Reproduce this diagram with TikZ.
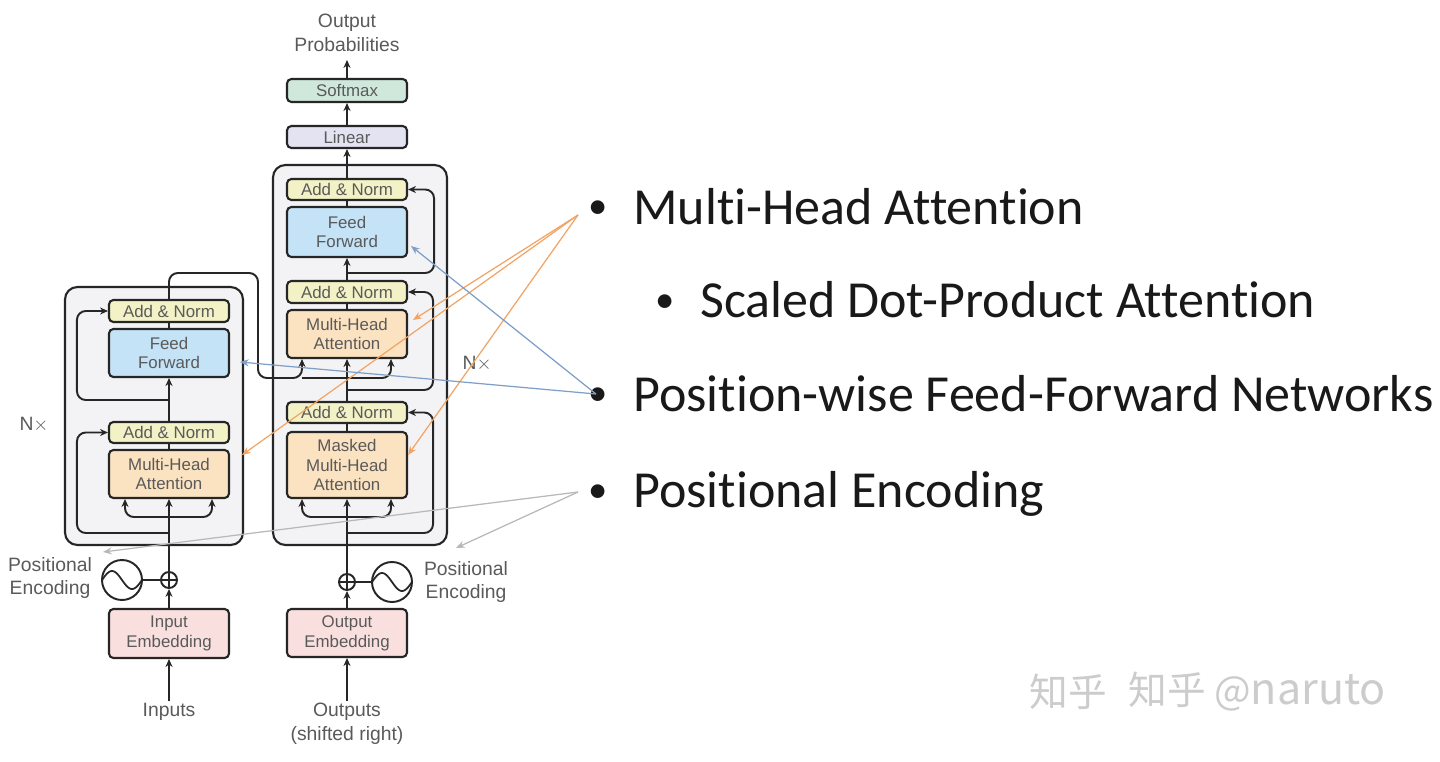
\documentclass[tikz,border=0pt]{standalone}
\usepackage{fontspec}
\setmainfont{Liberation Sans}
\newfontfamily\bulfont[Ligatures={NoCommon,NoDiscretionary}]{Carlito}
\newfontfamily\cjkfont{Noto Sans CJK SC}
\usetikzlibrary{arrows.meta,calc}
\definecolor{dgtext}{HTML}{5A5A5A}
\definecolor{addc}{HTML}{F2F2C6}
\definecolor{ffc}{HTML}{C4E3F6}
\definecolor{mhac}{HTML}{FBE2C0}
\definecolor{embc}{HTML}{FADFDF}
\definecolor{linc}{HTML}{E3E3F2}
\definecolor{smc}{HTML}{D0E8DB}
\definecolor{outerc}{HTML}{F3F3F5}
\definecolor{annor}{HTML}{F2A464}
\definecolor{annbl}{HTML}{7E9FC8}
\definecolor{anngr}{HTML}{B8B8B8}
\definecolor{wmc}{HTML}{CCCCCC}
\begin{document}
\begin{tikzpicture}[x=0.02cm,y=-0.02cm,
  blk/.style={draw=black!85, line width=1.2pt, rounded corners=2.5pt,
    font=\fontsize{9.6}{11.3}\selectfont, text=dgtext, align=center,
    inner sep=0pt, minimum width=2.4cm},
  outerbox/.style={draw=black!85, line width=1.2pt, fill=outerc, rounded corners=7pt},
  wire/.style={line width=1.1pt, draw=black!85, rounded corners=5pt},
  arr/.style={wire, -{Stealth[length=4.5pt,width=4pt]}},
  lbl/.style={font=\fontsize{11}{13.6}\selectfont, text=dgtext, align=center, inner sep=1pt},
  plusc/.style={circle, draw=black!85, line width=1.1pt, minimum size=0.32cm, inner sep=0pt,
    path picture={\draw[line width=0.9pt] (path picture bounding box.north) -- (path picture bounding box.south)
      (path picture bounding box.west) -- (path picture bounding box.east);}},
  sinec/.style={circle, draw=black!85, line width=1.1pt, minimum size=0.8cm, inner sep=0pt,
    path picture={\draw[line width=1pt, shift={(path picture bounding box.center)}]
      plot[domain=-1:1, samples=40, smooth] (\x*20, {9*sin(\x*180)});}},
  annO/.style={draw=annor, line width=0.7pt, -{Stealth[length=5pt,width=4pt]}},
  annB/.style={draw=annbl, line width=0.7pt, -{Stealth[length=5pt,width=4pt]}},
  annG/.style={draw=anngr, line width=0.7pt, -{Stealth[length=5pt,width=4pt]}},
  bultxt/.style={font=\bulfont\fontsize{29.6}{34}\selectfont, text=black!90, inner sep=0pt},
  buldot/.style={font=\bulfont\fontsize{22}{26}\selectfont, text=black!90, inner sep=0pt, anchor=base},
  wmtxt/.style={font=\cjkfont\fontsize{22}{26}\selectfont, inner sep=0pt}
]
\useasboundingbox[fill=white] (0,0) rectangle (1440,761);

% outer boxes
\node[outerbox, minimum width=3.56cm, minimum height=5.16cm] (encBox) at (154,416) {};
\node[outerbox, minimum width=3.48cm, minimum height=7.6cm] (decBox) at (360,355) {};

% ---------- encoder blocks ----------
\node[blk, fill=addc, minimum height=0.44cm] (eAN2) at (169,311) {Add \& Norm};
\node[blk, fill=ffc, minimum height=0.96cm] (eFF) at (169,353) {Feed\\Forward};
\node[blk, fill=addc, minimum height=0.42cm] (eAN1) at (169,432.5) {Add \& Norm};
\node[blk, fill=mhac, minimum height=0.96cm] (eMHA) at (169,474) {Multi-Head\\Attention};
\node[blk, fill=embc, minimum height=0.98cm] (eEmb) at (169,633.5) {Input\\Embedding};
\node[plusc] (ePlus) at (169,580) {};
\node[sinec] (eSin) at (122,580) {};
\node[lbl] (inL) at (169,712) {Inputs};
\node[lbl] (ePE) at (50,578) {Positional\\Encoding};
\node[lbl] (eN) at (34,425) {N$\times$};

% ---------- decoder blocks ----------
\node[blk, fill=smc, minimum height=0.46cm] (dSm) at (347,90.5) {Softmax};
\node[blk, fill=linc, minimum height=0.44cm] (dLin) at (347,137) {Linear};
\node[blk, fill=addc, minimum height=0.42cm] (dAN3) at (347,189.5) {Add \& Norm};
\node[blk, fill=ffc, minimum height=1.0cm] (dFF) at (347,232) {Feed\\Forward};
\node[blk, fill=addc, minimum height=0.44cm] (dAN2) at (347,292) {Add \& Norm};
\node[blk, fill=mhac, minimum height=0.96cm] (dMHA2) at (347,334) {Multi-Head\\Attention};
\node[blk, fill=addc, minimum height=0.42cm] (dAN1) at (347,412.5) {Add \& Norm};
\node[blk, fill=mhac, minimum height=1.32cm] (dMMHA) at (347,465) {Masked\\Multi-Head\\Attention};
\node[blk, fill=embc, minimum height=0.96cm] (dEmb) at (347,633) {Output\\Embedding};
\node[plusc] (dPlus) at (347,582) {};
\node[sinec] (dSin) at (392,582) {};
\node[lbl] (outL) at (347,724) {Outputs\\(shifted right)};
\node[lbl] (dPE) at (466,582) {Positional\\Encoding};
\node[lbl] (dN) at (477,364) {N$\times$};
\node[lbl] (probL) at (347,33) {Output\\Probabilities};

% ---------- coordinates ----------
\coordinate (eSp) at (169,517);
\coordinate (eR1) at (169,533);
\coordinate (eR2) at (169,400);
\coordinate (eOut1) at (258,273);
\coordinate (dKL) at (302,378);
\coordinate (dSp) at (347,517);
\coordinate (dR1) at (347,533);
\coordinate (dR2) at (347,390);
\coordinate (dR3) at (347,273);
\coordinate (dTop) at (347,60);

% ---------- encoder wiring ----------
\draw[arr] (inL) -- (eEmb);
\draw[arr] (eEmb) -- (ePlus);
\draw[wire] (ePlus) -- (eSin);
\draw[arr] (ePlus) -- (eMHA);
\draw[arr] (eSp) -| ([xshift=-0.88cm]eMHA.south);
\draw[arr] (eSp) -| ([xshift=0.86cm]eMHA.south);
\draw[arr] (eR1) -| ([xshift=-0.62cm]eAN1.west) -- (eAN1.west);
\draw[wire] (eMHA) -- (eAN1);
\draw[arr] (eAN1) -- (eFF);
\draw[arr] (eR2) -| ([xshift=-0.62cm]eAN2.west) -- (eAN2.west);
\draw[wire] (eFF) -- (eAN2);
\draw[arr] (eAN2.north) |- (eOut1) |- (dKL) -- (dKL |- dMHA2.south);

% ---------- decoder wiring ----------
\draw[arr] (outL) -- (dEmb);
\draw[arr] (dEmb) -- (dPlus);
\draw[wire] (dPlus) -- (dSin);
\draw[arr] (dPlus) -- (dMMHA);
\draw[arr] (dSp) -| ([xshift=-0.9cm]dMMHA.south);
\draw[arr] (dSp) -| ([xshift=0.88cm]dMMHA.south);
\draw[arr] (dR1) -| ([xshift=0.5cm]dAN1.east) -- (dAN1.east);
\draw[wire] (dMMHA) -- (dAN1);
\draw[arr] (dAN1) -- (dMHA2);
\draw[arr] (dKL) -| ([xshift=0.88cm]dMHA2.south);
\draw[arr] (dR2) -| ([xshift=0.5cm]dAN2.east) -- (dAN2.east);
\draw[wire] (dMHA2) -- (dAN2);
\draw[arr] (dAN2) -- (dFF);
\draw[arr] (dR3) -| ([xshift=0.52cm]dAN3.east) -- (dAN3.east);
\draw[wire] (dFF) -- (dAN3);
\draw[arr] (dAN3) -- (dLin);
\draw[arr] (dLin) -- (dSm);
\draw[arr] (dSm) -- (dTop);

% ---------- bullet list ----------
\node[buldot] (bu1) at (598,218) {•};
\node[bultxt, anchor=base west] (t1) at (633,224) {Multi-Head Attention};
\node[buldot] (bu2) at (665,312) {•};
\node[bultxt, anchor=base west] (t2) at (700,317) {Scaled Dot-Product Attention};
\node[buldot] (bu3) at (598,405) {•};
\node[bultxt, anchor=base west] (t3) at (633,411) {Position-wise Feed-Forward Networks};
\node[buldot] (bu4) at (598,502) {•};
\node[bultxt, anchor=base west] (t4) at (633,507) {Positional Encoding};

% ---------- annotation pointers ----------
\coordinate (oMHA) at (578,215);
\coordinate (oFFN) at (596,394);
\coordinate (oPE) at (578,492);
\coordinate (pA) at (242,455);
\coordinate (pB) at (413,320);
\coordinate (pC) at (408,455);
\coordinate (pD) at (411,246);
\coordinate (pE) at (240,362);
\coordinate (pF) at (103,552);
\coordinate (pG) at (456,548);
\draw[annO] (oMHA) -- (pA);
\draw[annO] (oMHA) -- (pB);
\draw[annO] (oMHA) -- (pC);
\draw[annB] (oFFN) -- (pD);
\draw[annB] (oFFN) -- (pE);
\draw[annG] (oPE) -- (pF);
\draw[annG] (oPE) -- (pG);

% ---------- watermark ----------
\node[wmtxt, text=wmc] (wm1) at (1068,692) {知乎};
\node[wmtxt, text=wmc, anchor=west] (wm2) at (1128,692) {知乎 @\fontsize{24.5}{26}\selectfont naruto};
\end{tikzpicture}
\end{document}
